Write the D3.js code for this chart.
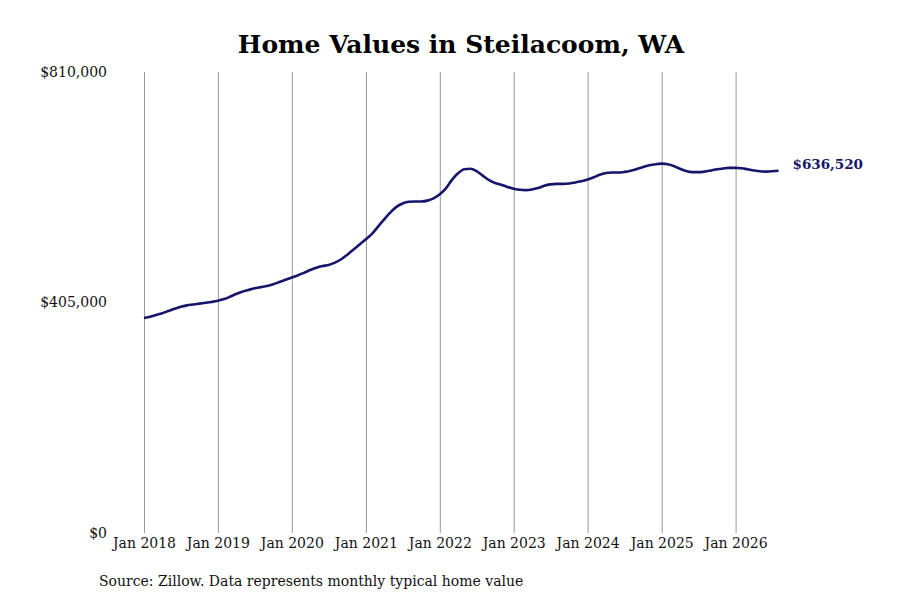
<!DOCTYPE html>
<html>
<head>
<meta charset="utf-8">
<script src="https://cdn.jsdelivr.net/npm/d3@7"></script>
<style>
  body { margin: 0; background: #fff; }
  text { font-family: "DejaVu Serif", serif; }
</style>
</head>
<body>
<script>
// Typical home value, Steilacoom WA, monthly from Jan 2018
var startYear = 2018;
var homeValues = [
  377800, 380000, 383000, 386000, 390000, 394000, 397500, 400000, 401500, 403000, 404500, 406000, // 2018
  408000, 411000, 415000, 420000, 424000, 427000, 430000, 432000, 434000, 437000, 441000, 445000, // 2019
  449000, 453000, 457000, 462000, 466000, 469000, 471000, 475000, 481000, 489000, 498000, 507000, // 2020
  516000, 526000, 538000, 551000, 563000, 573000, 579000, 582000, 582500, 582500, 584000, 588000, // 2021
  595000, 606000, 620000, 632000, 639000, 640000, 636000, 628000, 620000, 615000, 612000, 608000, // 2022
  605000, 603000, 602500, 603500, 606000, 610000, 612500, 613500, 613500, 614000, 616000, 618000, // 2023
  621000, 625000, 629500, 632500, 633500, 633500, 634500, 636500, 639500, 643000, 646000, 648000, // 2024
  649000, 648000, 645000, 640000, 636000, 634000, 634000, 635000, 637000, 639000, 640500, 641500, // 2025
  641500, 641000, 639000, 637000, 635500, 635000, 635500, 636520                                  // 2026
];
var yTicks = [0, 405000, 810000];
var tickYears = [2018, 2019, 2020, 2021, 2022, 2023, 2024, 2025, 2026];

var width = 900;
var height = 600;

var data = homeValues.map(function (v, i) {
  return { date: new Date(startYear, i, 1), value: v };
});

var svg = d3.select("body").append("svg")
  .attr("width", width)
  .attr("height", height);

var x = d3.scaleTime()
  .domain([new Date(2018, 0, 1), new Date(2026, 0, 1)])
  .range([144, 735.6]);

var y = d3.scaleLinear()
  .domain([0, 810000])
  .range([533, 72]);

// title
svg.append("text")
  .attr("x", 461)
  .attr("y", 44)
  .attr("dy", "0.35em")
  .attr("text-anchor", "middle")
  .style("font-size", "25px")
  .style("font-weight", "bold")
  .text("Home Values in Steilacoom, WA");

// vertical gridlines + x labels
var xAxis = d3.axisBottom(x)
  .tickValues(tickYears.map(function (yr) { return new Date(yr, 0, 1); }))
  .tickFormat(d3.timeFormat("Jan %Y"))
  .tickSize(-(533 - 72))
  .tickPadding(5);

var gx = svg.append("g")
  .attr("transform", "translate(0,533)")
  .call(xAxis);
gx.select(".domain").remove();
gx.selectAll(".tick line").attr("stroke", "#999").attr("stroke-width", 1);
gx.selectAll(".tick text")
  .attr("fill", "#111")
  .style("font-size", "14px")
  .style("font-family", "DejaVu Serif, serif");

// y labels
var yAxis = d3.axisLeft(y)
  .tickValues(yTicks)
  .tickFormat(function (d) { return "$" + d3.format(",")(d); })
  .tickSize(0)
  .tickPadding(0);

var gy = svg.append("g")
  .attr("transform", "translate(107,0)")
  .call(yAxis);
gy.select(".domain").remove();
gy.selectAll(".tick text")
  .attr("fill", "#111")
  .style("font-size", "14px")
  .style("font-family", "DejaVu Serif, serif");

// the line
var line = d3.line()
  .x(function (d) { return x(d.date); })
  .y(function (d) { return y(d.value); })
  .curve(d3.curveMonotoneX);

svg.append("path")
  .datum(data)
  .attr("fill", "none")
  .attr("stroke", "#15156a")
  .attr("stroke-width", 2.6)
  .attr("d", line);

// end label
var last = data[data.length - 1];
svg.append("text")
  .attr("x", x(last.date) + 14)
  .attr("y", y(last.value) - 6)
  .attr("dy", "0.35em")
  .attr("fill", "#15156a")
  .style("font-size", "13.5px")
  .style("font-weight", "bold")
  .text("$" + d3.format(",")(last.value));

// source note
svg.append("text")
  .attr("x", 99)
  .attr("y", 581)
  .attr("dy", "0.35em")
  .attr("fill", "#111")
  .style("font-size", "14px")
  .text("Source: Zillow. Data represents monthly typical home value");
</script>
</body>
</html>
